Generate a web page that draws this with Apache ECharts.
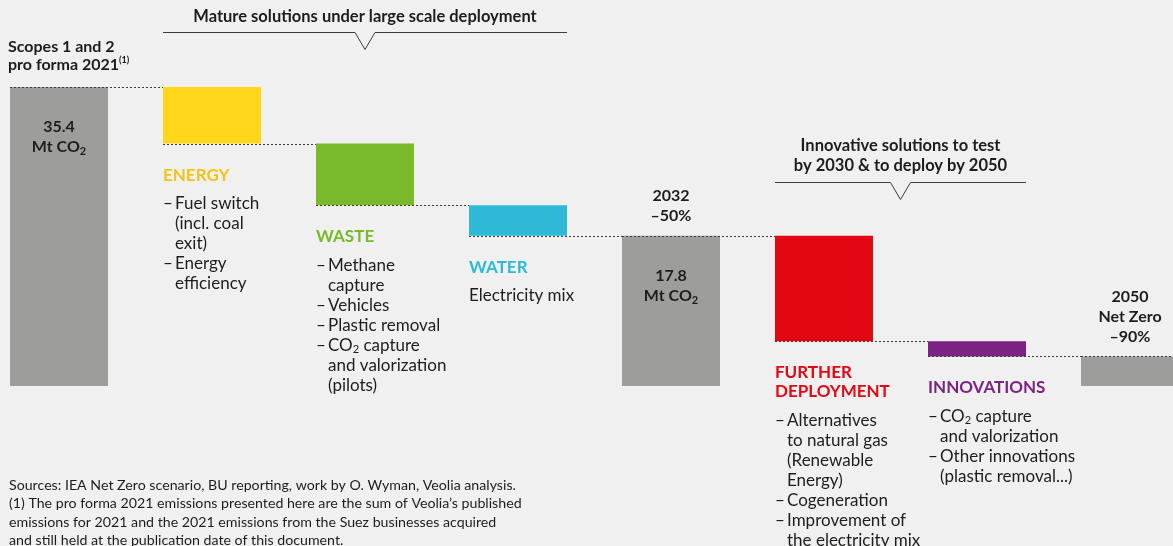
<!DOCTYPE html>
<html>
<head>
<meta charset="utf-8">
<script src="https://cdn.jsdelivr.net/npm/echarts@6/dist/echarts.min.js"></script>
<style>
  html, body { margin: 0; padding: 0; background: #f0f0f0; }
  #chart { width: 1173px; height: 546px; }
</style>
</head>
<body>
<div id="chart"></div>
<script>
// waterfall data (Mt CO2)
const categories = ['Scopes 1 and 2 pro forma 2021', 'Energy', 'Waste', 'Water', '2032', 'Further deployment', 'Innovations', '2050']
const emissions = [35.4, 6.7, 7.3, 3.6, 17.8, 12.5, 1.8, 3.5]
const isTotal = [true, false, false, false, true, false, false, true]
const showValue = [true, false, false, false, true, false, false, false]
const topLabels = [
	['Scopes 1 and 2', 'pro forma 2021⁽¹⁾'],
	null, null, null,
	['2032', '–50%'],
	null, null,
	['2050', 'Net Zero', '–90%'],
]
const headings = [null, 'ENERGY', 'WASTE', 'WATER', null, 'FURTHER\nDEPLOYMENT', 'INNOVATIONS', null]
const details = [
	null,
	[['Fuel switch', '(incl. coal', 'exit)'], ['Energy', 'efficiency']],
	[['Methane', 'capture'], ['Vehicles'], ['Plastic removal'], ['CO₂ capture', 'and valorization', '(pilots)']],
	['Electricity mix'],
	null,
	[['Alternatives', 'to natural gas', '(Renewable', 'Energy)'], ['Cogeneration'], ['Improvement of', 'the electricity mix']],
	[['CO₂ capture', 'and valorization'], ['Other innovations', '(plastic removal...)']],
	null,
]

const barColors = ['#9d9d9c', '#ffd619', '#7ab929', '#2ebad7', '#9d9d9c', '#e30613', '#7b2282', '#9d9d9c']
const headingColors = ['', '#f3c41a', '#7ab929', '#2ebad7', '', '#e30613', '#7b2282', '']
const FONT = 'Lato, sans-serif'
const TEXT = '#1d1d1b'
const BAR_W = 98

// base / level of each step
let level = 0
const bases = []
const levels = []
emissions.forEach((v, i) => {
	if (isTotal[i]) {
		bases.push(0)
		level = v
	} else {
		level = level - v
		bases.push(level)
	}
	levels.push(level)
})

// turn "CO₂" and "⁽¹⁾" into rich tokens
function rich(text, s) {
	let out = '{' + s + '|' + text
		.replace(/₂/g, '}{' + s + 'Sub|2}{' + s + '|')
		.replace(/⁽¹⁾/g, '}{' + s + 'Sup|(1)}{' + s + '|') + '}'
	return out.split('{' + s + '|}').join('')
}

function richStyles(color) {
	return {
		h: { fontFamily: FONT, fontSize: 17, fontWeight: 'bold', lineHeight: 19, color: color },
		g: { fontSize: 9, lineHeight: 9 },
		d: { fontFamily: FONT, fontSize: 17, lineHeight: 20, width: 12, color: TEXT },
		i: { fontFamily: FONT, fontSize: 17, lineHeight: 20, width: 12, color: TEXT },
		b: { fontFamily: FONT, fontSize: 17, lineHeight: 20, color: TEXT },
		bSub: { fontFamily: FONT, fontSize: 11, verticalAlign: 'bottom', color: TEXT },
	}
}

function detailText(i) {
	let lines = headings[i].split('\n').map(h => '{h|' + h + '}')
	lines.push('{g| }')
	details[i].forEach(item => {
		if (Array.isArray(item)) {
			item.forEach((l, k) => lines.push((k == 0 ? '{d|–}' : '{i| }') + rich(l, 'b')))
		} else {
			lines.push(rich(item, 'b'))
		}
	})
	return lines.join('\n')
}

const mainData = emissions.map((v, i) => {
	let item = { value: v, itemStyle: { color: barColors[i] } }
	if (showValue[i]) {
		item.label = {
			show: true,
			position: 'insideTop',
			distance: 30,
			formatter: '{v|' + v.toFixed(1) + '}\n' + rich('Mt CO₂', 'v'),
			rich: {
				v: { fontFamily: FONT, fontSize: 16, fontWeight: 'bold', lineHeight: 20, color: TEXT },
				vSub: { fontFamily: FONT, fontSize: 11, fontWeight: 'bold', verticalAlign: 'bottom', color: TEXT },
			},
		}
	} else if (headings[i]) {
		item.label = {
			show: true,
			position: [0, '100%'],
			offset: [0, 22],
			align: 'left',
			verticalAlign: 'top',
			formatter: detailText(i),
			rich: richStyles(headingColors[i]),
		}
	}
	return item
})

const capData = topLabels.map((t, i) => {
	if (!t) return '-'
	let first = i == 0
	return {
		value: 0,
		label: {
			show: true,
			position: first ? [-2, -13] : 'top',
			distance: 10,
			align: first ? 'left' : 'center',
			verticalAlign: 'bottom',
			formatter: t.map(l => rich(l, 't')).join('\n'),
			rich: {
				t: { fontFamily: FONT, fontSize: 16, fontWeight: 'bold', lineHeight: first ? 18 : 20, color: TEXT, align: first ? 'left' : 'center' },
				tSup: { fontFamily: FONT, fontSize: 9, fontWeight: 'bold', verticalAlign: 'top', color: TEXT },
			},
		},
	}
})

const option = {
	backgroundColor: '#f0f0f0',
	animation: false,
	// category points sit on the grid edges (boundaryGap false), bars overflow them
	grid: { left: 59, right: 43, top: 87, bottom: 160 },
	xAxis: {
		type: 'category',
		data: categories,
		boundaryGap: false,
		show: false,
	},
	yAxis: {
		type: 'value',
		min: 0,
		max: 35.4,
		show: false,
	},
	series: [
		{
			name: 'base',
			type: 'bar',
			stack: 'w',
			barWidth: BAR_W,
			clip: false,
			silent: true,
			itemStyle: { color: 'transparent' },
			data: bases,
		},
		{
			name: 'emissions',
			type: 'bar',
			stack: 'w',
			barWidth: BAR_W,
			clip: false,
			data: mainData,
		},
		{
			name: 'cap',
			type: 'bar',
			stack: 'w',
			barWidth: BAR_W,
			clip: false,
			itemStyle: { color: 'transparent' },
			data: capData,
		},
		{
			name: 'connectors',
			type: 'custom',
			silent: true,
			z: 5,
			data: levels.map((v, i) => [i, v]),
			renderItem(params, api) {
				let p = api.coord([api.value(0), api.value(1)])
				let band = api.size([1, 0])[0]
				let x0 = p[0] - BAR_W / 2
				let y = Math.round(p[1]) + 0.5
				return {
					type: 'line',
					shape: { x1: x0, y1: y, x2: x0 + band, y2: y },
					style: { stroke: '#3c3c3b', lineWidth: 1, lineDash: [2, 2] },
				}
			},
		},
	],
}

const chart = echarts.init(document.getElementById('chart'))
chart.setOption(option)

// brackets over groups of bars
function bracket(from, to, y, title, titleY) {
	let x0 = chart.convertToPixel({ xAxisIndex: 0 }, from) - BAR_W / 2
	let x1 = chart.convertToPixel({ xAxisIndex: 0 }, to) + BAR_W / 2
	let mid = (x0 + x1) / 2
	return [
		{
			type: 'polyline',
			shape: { points: [[x0, y], [mid - 10, y], [mid, y + 17], [mid + 10, y], [x1, y]] },
			style: { stroke: '#3c3c3b', lineWidth: 1, fill: null },
		},
		{
			type: 'text',
			x: mid,
			y: titleY,
			style: {
				text: title,
				fill: TEXT,
				font: 'bold 16.5px ' + FONT,
				lineHeight: 20,
				align: 'center',
				verticalAlign: 'middle',
			},
		},
	]
}

chart.setOption({
	graphic: [
		...bracket(1, 3, 32.5, 'Mature solutions under large scale deployment', 17),
		...bracket(5, 6, 182.5, 'Innovative solutions to test\nby 2030 & to deploy by 2050', 156),
		{
			type: 'text',
			left: 9,
			top: 476,
			style: {
				text: 'Sources: IEA Net Zero scenario, BU reporting, work by O. Wyman, Veolia analysis.\n' +
					'(1) The pro forma 2021 emissions presented here are the sum of Veolia’s published\n' +
					'emissions for 2021 and the 2021 emissions from the Suez businesses acquired\n' +
					'and still held at the publication date of this document.',
				fill: TEXT,
				font: '14.2px ' + FONT,
				lineHeight: 18.4,
			},
		},
	],
})
window.addEventListener('resize', chart.resize)
</script>
</body>
</html>
